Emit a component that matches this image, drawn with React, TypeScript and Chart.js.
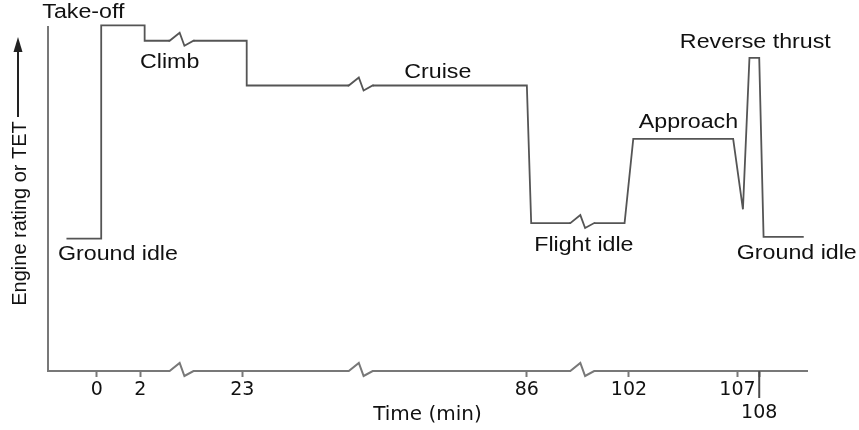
import React, { useEffect, useRef } from 'react';
import { Chart, LinearScale, registerables } from 'chart.js';

// Flight profile: time (min) and engine rating (relative, take-off ≈ 100)
const TIMES = [-1.4, 0.2, 0.2, 2.2, 2.2, 23.2, 23.2, 86.0, 86.2, 101.8, 102.2, 106.8, 107.25, 107.55, 108.0, 108.2, 110.05];
const RATINGS = [38.5, 38.5, 100.5, 100.5, 96, 96, 83, 83, 43, 43, 67.5, 67.5, 47, 91, 91, 39, 39];

// Axis ticks (minutes)
const TICK_TIMES = [0, 2, 23, 86, 102, 107, 108];
const LONG_TICK = 108;

// Axis breaks (minutes compressed into a short zig-zag)
const AXIS_BREAKS: [number, number][] = [[3.35, 20.75], [27.9, 78.9], [88, 100.4]];
const BREAK_SPAN = 1.1;
const X_MIN = -2.25;
const X_MAX = 110.2;

// Phase labels, anchored in (time, rating) coordinates
const PHASE_LABELS = ['Take-off', 'Climb', 'Cruise', 'Approach', 'Reverse thrust', 'Ground idle', 'Flight idle', 'Ground idle'];
const PHASE_TIMES = [-0.62, 3.4, 81.9, 104.74, 107.82, 0.97, 95.05, 109.73];
const PHASE_RATINGS = [102.6, 88.1, 85.2, 70.6, 93.9, 32.3, 34.9, 32.6];

const X_TITLE = 'Time (min)';
const Y_TITLE = 'Engine rating or TET';

const LINE_COLOR = '#555555';
const LINE_WIDTH = 1.8;
const AXIS_COLOR = '#787878';
const TEXT_COLOR = '#111111';
const ANNOT_FONT = '19.5px "Liberation Sans", Arial, sans-serif';
const STRETCH = 1.19;

function compress(t: number): number {
  let u = t;
  for (const [a, b] of AXIS_BREAKS) {
    if (t >= b) u -= (b - a) - BREAK_SPAN;
    else if (t > a) u -= (t - a) - ((t - a) / (b - a)) * BREAK_SPAN;
  }
  return u;
}

function expand(u: number): number {
  for (const [a, b] of AXIS_BREAKS) {
    const ca = compress(a);
    if (u > ca && u < ca + BREAK_SPAN) {
      return a + ((u - ca) / BREAK_SPAN) * (b - a);
    }
  }
  let shift = 0;
  for (const [a, b] of AXIS_BREAKS) {
    if (u >= compress(b)) shift += (b - a) - BREAK_SPAN;
  }
  return u + shift;
}

class BrokenTimeScale extends LinearScale {
  static id = 'brokenTime';
  static defaults = LinearScale.defaults;
  getPixelForValue(value: number) {
    if (value === null || value === undefined || isNaN(value)) return NaN;
    const lo = compress(this.min);
    const hi = compress(this.max);
    return this.getPixelForDecimal((compress(value) - lo) / (hi - lo));
  }
  getValueForPixel(pixel: number) {
    const lo = compress(this.min);
    const hi = compress(this.max);
    return expand(lo + this.getDecimalForPixel(pixel) * (hi - lo));
  }
}

Chart.register(...registerables, BrokenTimeScale);

const decorPlugin = {
  id: 'flightDecor',
  afterDatasetsDraw(chart: any) {
    const { ctx, chartArea, scales } = chart;
    const xs = scales.x;
    const ys = scales.y;
    const zig = (x0: number, x1: number, y: number, color: string, width: number) => {
      const w = x1 - x0;
      ctx.save();
      ctx.fillStyle = '#ffffff';
      ctx.fillRect(x0, y - 3, w, 6);
      ctx.beginPath();
      ctx.moveTo(x0 - 1, y);
      ctx.lineTo(x0, y);
      ctx.lineTo(x0 + 0.42 * w, y - 8);
      ctx.lineTo(x0 + 0.62 * w, y + 5);
      ctx.lineTo(x1, y);
      ctx.lineTo(x1 + 1, y);
      ctx.strokeStyle = color;
      ctx.lineWidth = width;
      ctx.stroke();
      ctx.restore();
    };
    AXIS_BREAKS.forEach(([a, b]) => {
      const x0 = xs.getPixelForValue(a);
      const x1 = xs.getPixelForValue(b);
      zig(x0, x1, chartArea.bottom, AXIS_COLOR, 2);
      for (let i = 0; i < TIMES.length - 1; i++) {
        if (TIMES[i] <= a && TIMES[i + 1] >= b && RATINGS[i] === RATINGS[i + 1]) {
          zig(x0, x1, ys.getPixelForValue(RATINGS[i]), LINE_COLOR, LINE_WIDTH);
        }
      }
    });
    // extended tick at touchdown
    const xl = xs.getPixelForValue(LONG_TICK);
    ctx.save();
    ctx.strokeStyle = '#4a4a4a';
    ctx.lineWidth = 2;
    ctx.beginPath();
    ctx.moveTo(xl, chartArea.bottom);
    ctx.lineTo(xl, chartArea.bottom + 27);
    ctx.stroke();
    ctx.restore();
  },
  afterDraw(chart: any) {
    const { ctx, chartArea, scales } = chart;
    const xs = scales.x;
    const ys = scales.y;
    ctx.save();
    ctx.fillStyle = TEXT_COLOR;
    ctx.font = ANNOT_FONT;
    ctx.textAlign = 'center';
    ctx.textBaseline = 'alphabetic';
    PHASE_LABELS.forEach((label, i) => {
      const x = xs.getPixelForValue(PHASE_TIMES[i]);
      const y = ys.getPixelForValue(PHASE_RATINGS[i]);
      ctx.save();
      ctx.translate(x, y);
      ctx.scale(STRETCH, 1);
      ctx.fillText(label, 0, 0);
      ctx.restore();
    });
    ctx.restore();

    // Y title with arrow
    const tx = chartArea.left - 22.5;
    ctx.save();
    ctx.fillStyle = TEXT_COLOR;
    ctx.font = '20px "Liberation Sans", Arial, sans-serif';
    ctx.translate(tx, chartArea.top + 186.5);
    ctx.rotate(-Math.PI / 2);
    ctx.textAlign = 'center';
    ctx.textBaseline = 'alphabetic';
    ctx.fillText(Y_TITLE, 0, 0);
    ctx.restore();

    const ax = chartArea.left - 30;
    ctx.save();
    ctx.strokeStyle = '#222222';
    ctx.fillStyle = '#222222';
    ctx.lineWidth = 2;
    ctx.beginPath();
    ctx.moveTo(ax, chartArea.top + 90);
    ctx.lineTo(ax, chartArea.top + 22);
    ctx.stroke();
    ctx.beginPath();
    ctx.moveTo(ax, chartArea.top + 10);
    ctx.lineTo(ax - 4.5, chartArea.top + 25);
    ctx.lineTo(ax + 4.5, chartArea.top + 25);
    ctx.closePath();
    ctx.fill();
    ctx.restore();
  },
};

export default function App() {
  const ref = useRef<HTMLCanvasElement>(null);
  useEffect(() => {
    const canvas = ref.current;
    if (!canvas) return;
    const chart = new Chart(canvas, {
      type: 'line',
      data: {
        datasets: [
          {
            data: TIMES.map((t, i) => ({ x: t, y: RATINGS[i] })),
            borderColor: LINE_COLOR,
            borderWidth: LINE_WIDTH,
            pointRadius: 0,
            tension: 0,
            fill: false,
            clip: false as any,
          },
        ],
      },
      options: {
        responsive: false,
        animation: false,
        devicePixelRatio: 1,
        events: [],
        layout: { padding: { left: 48, top: 27, right: 52, bottom: 0 } },
        plugins: {
          legend: { display: false },
          tooltip: { enabled: false },
          title: { display: false },
        },
        scales: {
          x: {
            type: 'brokenTime' as any,
            min: X_MIN,
            max: X_MAX,
            bounds: 'data',
            position: 'bottom',
            afterBuildTicks: (s: any) => {
              s.ticks = TICK_TIMES.map((v) => ({ value: v }));
            },
            afterFit: (s: any) => {
              s.height = 59;
            },
            ticks: {
              autoSkip: false,
              maxRotation: 0,
              minRotation: 0,
              padding: 2,
              color: TEXT_COLOR,
              font: { family: 'DejaVu Sans', size: 19 },
              callback: (v: any) => (v === LONG_TICK ? ['', String(v)] : String(v)),
            },
            grid: {
              display: true,
              drawOnChartArea: false,
              drawTicks: true,
              tickLength: 6,
              tickWidth: 2,
              tickColor: AXIS_COLOR,
              color: AXIS_COLOR,
            },
            border: { display: true, color: AXIS_COLOR, width: 2 },
            title: {
              display: true,
              text: X_TITLE,
              color: TEXT_COLOR,
              font: { family: 'DejaVu Sans', size: 20 },
              padding: { top: 0, bottom: 3 },
            },
          } as any,
          y: {
            type: 'linear',
            min: 0,
            max: 100,
            ticks: { display: false },
            grid: { display: false, drawTicks: false },
            border: { display: true, color: AXIS_COLOR, width: 2 },
          },
        },
      },
      plugins: [decorPlugin],
    });
    return () => chart.destroy();
  }, []);
  return (
    <div style={{ position: 'absolute', left: 0, top: 0, width: 859, height: 430, background: '#ffffff' }}>
      <canvas ref={ref} width={859} height={430} style={{ display: 'block' }} />
    </div>
  );
}
